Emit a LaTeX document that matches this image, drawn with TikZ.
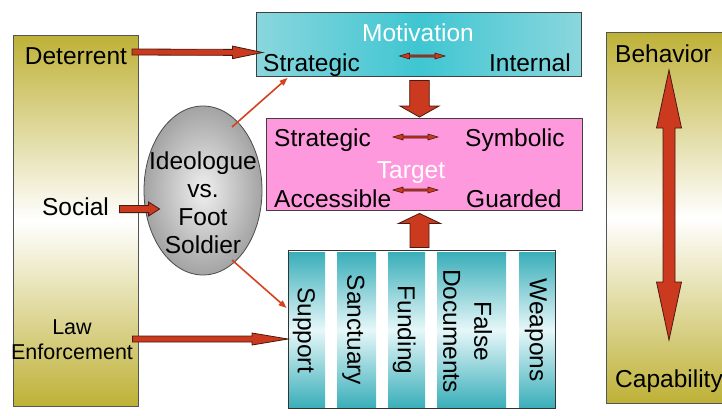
\documentclass[tikz,border=0pt]{standalone}
\usepackage{fontspec}
\setmainfont{Liberation Sans}
\usetikzlibrary{calc,arrows.meta,shapes.geometric}
\definecolor{oliveC}{HTML}{BEB137}
\definecolor{tealL}{HTML}{8AD6DD}
\definecolor{tealD}{HTML}{3FC6D2}
\definecolor{colT}{HTML}{39AEB9}
\definecolor{colW}{HTML}{E6F7F9}
\definecolor{pinkT}{HTML}{FF99DD}
\definecolor{arrRed}{HTML}{CB3A1E}
\definecolor{arrDark}{HTML}{4A1A10}
\definecolor{lineRed}{HTML}{D4421F}
\definecolor{boxLine}{HTML}{555555}
% block arrow: style, start, end, half shaft, half head, head length
\newcommand\blockarrow[6]{%
  \draw[#1] let \p1=#2, \p2=#3, \n1={atan2(\y2-\y1,\x2-\x1)},
    \n2={veclen(\x2-\x1,\y2-\y1)-#6} in
    ($(\p1)+({\n1+90}:#4)$) -- ($(\p1)+(\n1:\n2)+({\n1+90}:#4)$)
    -- ($(\p1)+(\n1:\n2)+({\n1+90}:#5)$) -- (\p2)
    -- ($(\p1)+(\n1:\n2)+({\n1-90}:#5)$) -- ($(\p1)+(\n1:\n2)+({\n1-90}:#4)$)
    -- ($(\p1)+({\n1-90}:#4)$) -- cycle;}
% double block arrow: style, tip1, tip2, half shaft, half head, head length
\newcommand\dblarrow[6]{%
  \draw[#1] let \p1=#2, \p2=#3, \n1={atan2(\y2-\y1,\x2-\x1)},
    \n2={veclen(\x2-\x1,\y2-\y1)-#6} in
    (\p1) -- ($(\p1)+(\n1:#6)+({\n1+90}:#5)$) -- ($(\p1)+(\n1:#6)+({\n1+90}:#4)$)
    -- ($(\p1)+(\n1:\n2)+({\n1+90}:#4)$) -- ($(\p1)+(\n1:\n2)+({\n1+90}:#5)$)
    -- (\p2)
    -- ($(\p1)+(\n1:\n2)+({\n1-90}:#5)$) -- ($(\p1)+(\n1:\n2)+({\n1-90}:#4)$)
    -- ($(\p1)+(\n1:#6)+({\n1-90}:#4)$) -- ($(\p1)+(\n1:#6)+({\n1-90}:#5)$)
    -- cycle;}
\tikzset{
  lbl/.style={font=\fontsize{24.5}{29}\selectfont, inner sep=0pt},
  lbltwo/.style={font=\fontsize{21.5}{25}\selectfont, inner sep=0pt},
  sidebox/.style={rectangle, inner sep=0pt, draw=boxLine, line width=1pt,
    top color=oliveC, bottom color=oliveC, middle color=white},
  motbox/.style={rectangle, inner sep=0pt, draw=black!75, line width=0.9pt,
    left color=tealL, right color=tealL, middle color=tealD,
    minimum width=325pt, minimum height=64pt},
  tgtbox/.style={rectangle, inner sep=0pt, draw=black!75, line width=0.9pt,
    fill=pinkT, minimum width=316pt, minimum height=92pt},
  colbox/.style={rectangle, inner sep=0pt, draw=none,
    top color=colT, bottom color=colT, middle color=colW, minimum height=156pt},
  supbox/.style={rectangle, inner sep=0pt, draw=black!80, line width=0.9pt,
    minimum width=267pt, minimum height=158pt},
  ellip/.style={ellipse, inner sep=0pt, draw=black!70, line width=0.8pt,
    inner color=black!6, outer color=black!36,
    minimum width=118pt, minimum height=169pt},
  blk/.style={fill=arrRed, draw=arrDark, line width=0.8pt, line join=miter},
  thinred/.style={draw=lineRed, line width=1.6pt,
    -{Triangle[length=8pt,width=6pt]}}
}
\begin{document}
\begin{tikzpicture}[x=1pt,y=-1pt]
\useasboundingbox (0,0) rectangle (722,415);
% left box
\node[sidebox, minimum width=125pt, minimum height=371pt] (lbox) at (75.5,220.5) {};
\node[lbl, anchor=base] (det) at (76,64) {Deterrent};
\node[lbl, anchor=base] (soc) at (75.5,215) {Social};
\node[lbltwo, align=center] (law) at (72,339.8) {Law\\Enforcement};
% right box
\node[sidebox, minimum width=120pt, minimum height=371pt] (rbox) at (666,217.5) {};
\node[lbl, anchor=base west] (beh) at (615,62) {Behavior};
\node[lbl, anchor=base west] (cap) at (615,387) {Capability};
% ellipse
\node[ellip] (ell) at (203,190.5) {};
\node[lbl, align=center, font=\fontsize{24.5}{28}\selectfont] (ide) at (203,203) {Ideologue\\vs.\\Foot\\Soldier};
% motivation
\node[motbox] (mot) at (418.5,44) {};
\node[lbl, text=white, anchor=base] (motl) at (418,41) {Motivation};
\node[lbl, anchor=base west] (ms) at (263,71) {Strategic};
\node[lbl, anchor=base east] (mi) at (571,71) {Internal};
% target
\node[tgtbox] (tgt) at (424,164) {};
\node[lbl, anchor=base west] (ts) at (274,146) {Strategic};
\node[lbl, anchor=base west] (ty) at (465,146) {Symbolic};
\node[lbl, text=white, anchor=base] (tl) at (411,178) {Target};
\node[lbl, anchor=base west] (ta) at (274,207) {Accessible};
\node[lbl, anchor=base west] (tg) at (466,207) {Guarded};
% support columns
\node[colbox, minimum width=37pt] (c1) at (306.5,330) {};
\node[colbox, minimum width=39pt] (c2) at (356.5,330) {};
\node[colbox, minimum width=37pt] (c3) at (406.5,330) {};
\node[colbox, minimum width=69pt] (c4) at (471.5,330) {};
\node[colbox, minimum width=36pt] (c5) at (537,330) {};
\node[supbox] (sup) at (421.5,329) {};
\node[lbl, rotate=-90] (t1) at (304,330) {Support};
\node[lbl, rotate=-90] (t2) at (353.3,330) {Sanctuary};
\node[lbl, rotate=-90] (t3) at (404.2,330) {Funding};
\node[lbl, rotate=-90, align=center, font=\fontsize{24.5}{31}\selectfont] (t4) at (467.5,331) {False\\Documents};
\node[lbl, rotate=-90] (t5) at (535.8,330) {Weapons};
% connector coordinates
\coordinate (detS) at ($(lbox.north east)+(-6.5,17.5)$);
\coordinate (motW) at ($(mot.west)+(7,8.5)$);
\coordinate (socS) at ($(lbox.east)+(-19,-11.5)$);
\coordinate (ellW) at ($(ell.west)+(16,18.5)$);
\coordinate (lawS) at ($(lbox.east)+(-6,118.5)$);
\coordinate (supW) at ($(sup.west)+(0.5,10)$);
\coordinate (motS) at ($(mot.south)+(1,4)$);
\coordinate (tgtN) at ($(tgt.north)+(-4.5,-0.5)$);
\coordinate (supN) at ($(sup.north)+(-2,-2)$);
\coordinate (tgtS) at ($(tgt.south)+(-4.5,3)$);
\coordinate (ellNE) at ($(ell.center)+(29,-63.5)$);
\coordinate (motSW) at ($(mot.south west)+(32,1.5)$);
\coordinate (ellSE) at ($(ell.center)+(29,69.5)$);
\coordinate (supWW) at ($(sup.west)+(-1,-21)$);
\coordinate (rA) at ($(rbox.center)+(3,-147.5)$);
\coordinate (rB) at ($(rbox.center)+(3,122.5)$);
% block arrows
\blockarrow{blk}{(detS)}{(motW)}{3pt}{6.3pt}{30pt}
\blockarrow{blk}{(socS)}{(ellW)}{3.6pt}{7pt}{11pt}
\blockarrow{blk}{(lawS)}{(supW)}{3pt}{6pt}{36pt}
\blockarrow{blk}{(motS)}{(tgtN)}{9.8pt}{19.5pt}{11pt}
\blockarrow{blk}{(supN)}{(tgtS)}{9.5pt}{21pt}{10pt}
\dblarrow{blk}{(rA)}{(rB)}{6pt}{12.5pt}{58pt}
% small double arrows
\dblarrow{blk, line width=0.6pt}{($(mot.center)+(-19,12)$)}{($(mot.center)+(26.5,12)$)}{1pt}{3pt}{10pt}
\dblarrow{blk, line width=0.6pt}{($(tgt.center)+(-31,-27)$)}{($(tgt.center)+(14,-27)$)}{1pt}{3pt}{10pt}
\dblarrow{blk, line width=0.6pt}{($(tgt.center)+(-31,26)$)}{($(tgt.center)+(14,26)$)}{1pt}{3pt}{10pt}
% thin connectors
\draw[thinred] (ellNE) -- (motSW);
\draw[thinred] (ellSE) -- (supWW);
\end{tikzpicture}
\end{document}
